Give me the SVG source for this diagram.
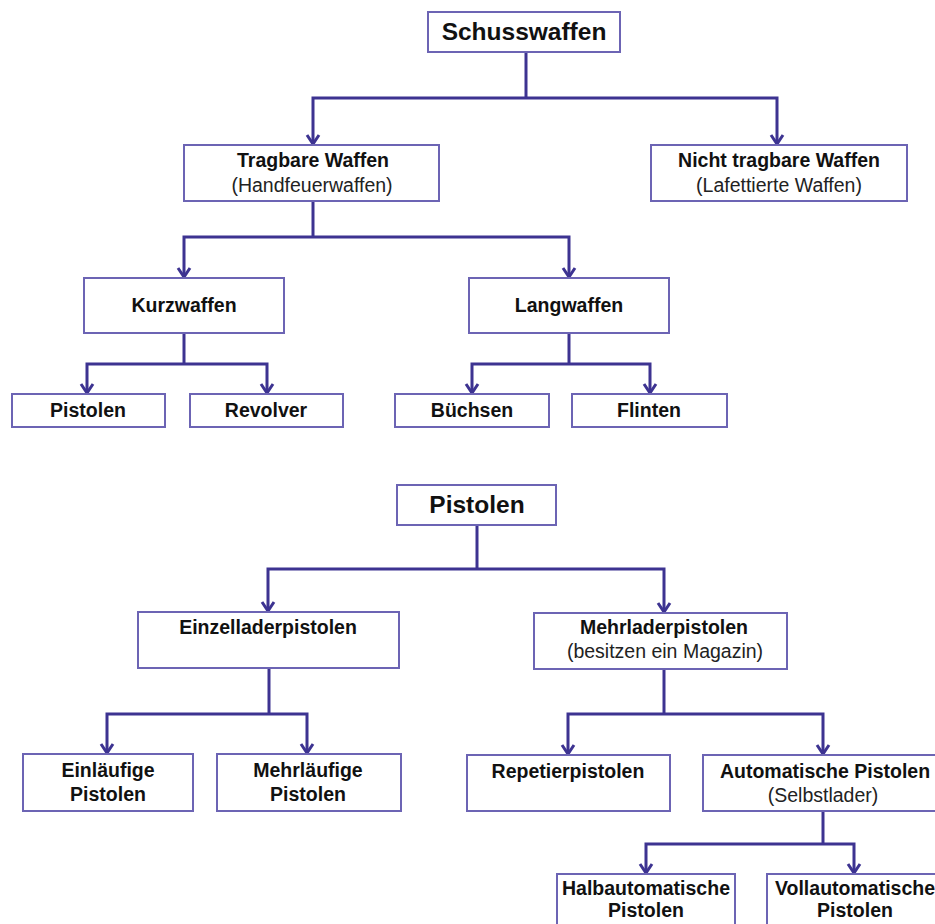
<svg xmlns="http://www.w3.org/2000/svg" width="935" height="924" viewBox="0 0 935 924">
<style>
.box{fill:#fff;stroke:#6c64b4;stroke-width:2}
.t{font-family:"Liberation Sans",Arial,sans-serif;font-size:19.5px;font-weight:bold;fill:#111;text-anchor:middle}
.s{font-family:"Liberation Sans",Arial,sans-serif;font-size:19.5px;fill:#222;text-anchor:middle}
.big{font-size:24.5px}
.c{fill:none;stroke:#3d3391;stroke-width:3}
</style>
<defs>
<marker id="ar" viewBox="-12 -8 14 16" markerUnits="userSpaceOnUse" markerWidth="14" markerHeight="16" refX="0" refY="0" orient="auto">
<path d="M-9,-6 L0,0 L-9,6" fill="none" stroke="#3d3391" stroke-width="3"/>
</marker>
</defs>
<g id="connectors">
<path class="c" d="M526,52 V98"/>
<path class="c" marker-end="url(#ar)" d="M526,98 H313 V144"/>
<path class="c" marker-end="url(#ar)" d="M526,98 H777 V144"/>
<path class="c" d="M313,201 V237"/>
<path class="c" marker-end="url(#ar)" d="M313,237 H184 V277"/>
<path class="c" marker-end="url(#ar)" d="M313,237 H569 V277"/>
<path class="c" d="M184,333 V364"/>
<path class="c" marker-end="url(#ar)" d="M184,364 H87 V393"/>
<path class="c" marker-end="url(#ar)" d="M184,364 H267 V393"/>
<path class="c" d="M569,333 V364"/>
<path class="c" marker-end="url(#ar)" d="M569,364 H472 V393"/>
<path class="c" marker-end="url(#ar)" d="M569,364 H650 V393"/>
<path class="c" d="M477,525 V569"/>
<path class="c" marker-end="url(#ar)" d="M477,569 H268 V611"/>
<path class="c" marker-end="url(#ar)" d="M477,569 H664 V612"/>
<path class="c" d="M269,668 V714"/>
<path class="c" marker-end="url(#ar)" d="M269,714 H107 V753"/>
<path class="c" marker-end="url(#ar)" d="M269,714 H307 V753"/>
<path class="c" d="M664,669 V714"/>
<path class="c" marker-end="url(#ar)" d="M664,714 H568 V754"/>
<path class="c" marker-end="url(#ar)" d="M664,714 H823 V754"/>
<path class="c" d="M823,811 V844"/>
<path class="c" marker-end="url(#ar)" d="M823,844 H646 V873"/>
<path class="c" marker-end="url(#ar)" d="M823,844 H854 V873"/>
</g>
<g id="schusswaffen"><rect class="box" x="428" y="12" width="192" height="40"/><text class="t big" x="524" y="40">Schusswaffen</text></g>
<g id="tragbare"><rect class="box" x="184" y="145" width="255" height="56"/><text class="t" x="313" y="167">Tragbare Waffen</text><text class="s" x="312" y="192">(Handfeuerwaffen)</text></g>
<g id="nicht-tragbare"><rect class="box" x="651" y="145" width="256" height="56"/><text class="t" x="779" y="167">Nicht tragbare Waffen</text><text class="s" x="779" y="192">(Lafettierte Waffen)</text></g>
<g id="kurzwaffen"><rect class="box" x="84" y="278" width="200" height="55"/><text class="t" x="184" y="312">Kurzwaffen</text></g>
<g id="langwaffen"><rect class="box" x="469" y="278" width="200" height="55"/><text class="t" x="569" y="312">Langwaffen</text></g>
<g id="pistolen-1"><rect class="box" x="12" y="394" width="153" height="33"/><text class="t" x="88" y="417">Pistolen</text></g>
<g id="revolver"><rect class="box" x="190" y="394" width="153" height="33"/><text class="t" x="266" y="417">Revolver</text></g>
<g id="buechsen"><rect class="box" x="395" y="394" width="154" height="33"/><text class="t" x="472" y="417">Büchsen</text></g>
<g id="flinten"><rect class="box" x="572" y="394" width="155" height="33"/><text class="t" x="649" y="417">Flinten</text></g>
<g id="pistolen"><rect class="box" x="397" y="485" width="159" height="40"/><text class="t big" x="477" y="513">Pistolen</text></g>
<g id="einzellader"><rect class="box" x="138" y="612" width="261" height="56"/><text class="t" x="268" y="634">Einzelladerpistolen</text></g>
<g id="mehrlader"><rect class="box" x="534" y="613" width="253" height="56"/><text class="t" x="664" y="634">Mehrladerpistolen</text><text class="s" x="665" y="658">(besitzen ein Magazin)</text></g>
<g id="einlaeufige"><rect class="box" x="23" y="754" width="170" height="57"/><text class="t" x="108" y="777">Einläufige</text><text class="t" x="108" y="801">Pistolen</text></g>
<g id="mehrlaeufige"><rect class="box" x="217" y="754" width="184" height="57"/><text class="t" x="308" y="777">Mehrläufige</text><text class="t" x="308" y="801">Pistolen</text></g>
<g id="repetier"><rect class="box" x="467" y="755" width="203" height="56"/><text class="t" x="568" y="778">Repetierpistolen</text></g>
<g id="automatische"><rect class="box" x="703" y="755" width="245" height="56"/><text class="t" x="825" y="778">Automatische Pistolen</text><text class="s" x="823" y="802">(Selbstlader)</text></g>
<g id="halbautomatische"><rect class="box" x="557" y="874" width="178" height="60"/><text class="t" x="646" y="895">Halbautomatische</text><text class="t" x="646" y="917">Pistolen</text></g>
<g id="vollautomatische"><rect class="box" x="767" y="874" width="178" height="60"/><text class="t" x="855" y="895">Vollautomatische</text><text class="t" x="855" y="917">Pistolen</text></g>
</svg>
